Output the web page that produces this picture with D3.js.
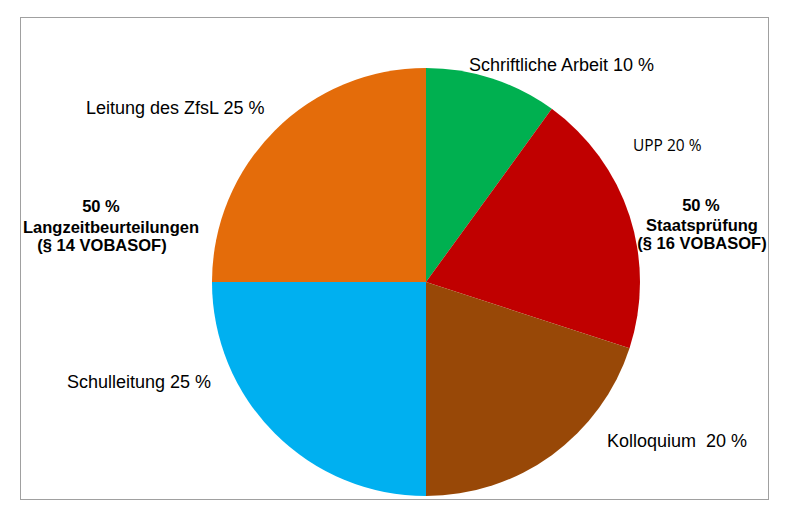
<!DOCTYPE html>
<html><head><meta charset="utf-8">
<script src="https://cdn.jsdelivr.net/npm/d3@7"></script>
<style>body{margin:0;background:#fff}svg{display:block}</style>
</head><body>
<svg id="c" width="789" height="521"></svg>
<script>
const categories = ["Schriftliche Arbeit", "UPP", "Kolloquium", "Schulleitung", "Leitung des ZfsL"];
const values = [10, 20, 20, 25, 25];
const colors = ["#00B050", "#C00000", "#984807", "#00B0F0", "#E46C0A"];
const sliceLabels = ["Schriftliche Arbeit 10 %", "UPP 20 %", "Kolloquium  20 %", "Schulleitung 25 %", "Leitung des ZfsL 25 %"];
const groupLeft = ["50 %", "Langzeitbeurteilungen", "(§ 14 VOBASOF)"];
const groupRight = ["50 %", "Staatsprüfung", "(§ 16 VOBASOF)"];

const svg = d3.select("#c");
svg.append("rect").attr("x", 20.5).attr("y", 17.5).attr("width", 748).attr("height", 482)
  .attr("fill", "#fff").attr("stroke", "#a0a0a0").attr("stroke-width", 1);

const cx = 426, cy = 282, R = 214;
const pie = d3.pie().sort(null).value(d => d)(values);
const arc = d3.arc().innerRadius(0).outerRadius(R);
const g = svg.append("g").attr("transform", `translate(${cx},${cy})`);
g.selectAll("path").data(pie).join("path")
  .attr("d", arc).attr("fill", (d, i) => colors[i]);

const f18 = "normal 18px 'Liberation Sans', Arial, sans-serif";
// slice labels: [x, y, anchor, font]
const pos = [
  [469, 71, "start", f18],
  [633, 151, "start", "normal 15.5px 'Open Sans', 'Noto Sans', sans-serif"],
  [607, 447, "start", f18],
  [67, 388, "start", f18],
  [86, 114, "start", f18]
];
svg.selectAll("text.sl").data(sliceLabels).join("text").attr("class", "sl")
  .attr("x", (d, i) => pos[i][0]).attr("y", (d, i) => pos[i][1])
  .attr("text-anchor", (d, i) => pos[i][2])
  .style("font", (d, i) => pos[i][3]).attr("fill", "#000")
  .style("white-space", "pre")
  .text(d => d);

function group(lines, xs, ys) {
  svg.append("g").selectAll("text").data(lines).join("text")
    .attr("x", (d, i) => xs[i]).attr("y", (d, i) => ys[i])
    .attr("text-anchor", "middle")
    .style("font", "bold 16.5px 'Liberation Sans', Arial, sans-serif")
    .attr("fill", "#000").text(d => d);
}
group(groupLeft, [101, 111, 102], [212, 233, 251]);
group(groupRight, [701, 702, 702], [211, 231, 249]);
</script>
</body></html>
